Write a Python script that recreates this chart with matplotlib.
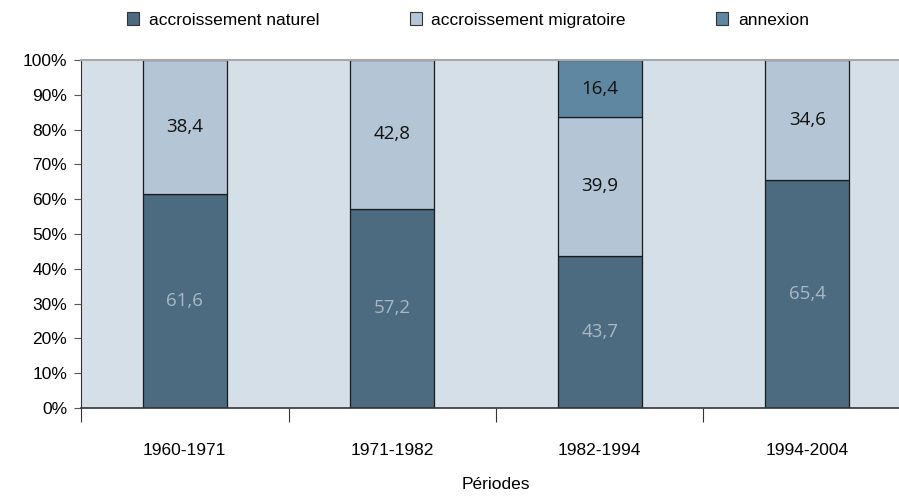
import numpy as np
import matplotlib.pyplot as plt
from matplotlib.patches import Patch
from matplotlib.ticker import FuncFormatter

periodes = ['1960-1971', '1971-1982', '1982-1994', '1994-2004']
naturel = [61.6, 57.2, 43.7, 65.4]
migratoire = [38.4, 42.8, 39.9, 34.6]
annexion = [0, 0, 16.4, 0]

c_nat = '#4c6a80'
c_mig = '#b4c6d5'
c_ann = '#5f87a1'
fond = '#d5dfe8'

plt.rcParams['font.family'] = ['Liberation Sans', 'DejaVu Sans']

fig = plt.figure(figsize=(8.99, 4.98), dpi=100)
ax = fig.add_axes([81 / 899, 90 / 498, 830 / 899, 348 / 498])
ax.set_facecolor(fond)

x = np.arange(len(periodes)) + 0.5
w = 0.405
nat = np.array(naturel)
mig = np.array(migratoire)
ann = np.array(annexion)

ax.bar(x, nat, w, color=c_nat, edgecolor='#1a1a1a', linewidth=0.9)
ax.bar(x, mig, w, bottom=nat, color=c_mig, edgecolor='#1a1a1a', linewidth=0.9)
msk = ann > 0
ax.bar(x[msk], ann[msk], w, bottom=(nat + mig)[msk], color=c_ann,
       edgecolor='#1a1a1a', linewidth=0.9)

# étiquettes des segments
lab_font = ['Open Sans', 'DejaVu Sans']
for i in range(len(periodes)):
    ax.text(x[i], nat[i] / 2, f'{naturel[i]}'.replace('.', ','), ha='center', va='center',
            fontsize=13.5, color='#aab8c4', family=lab_font)
    ax.text(x[i], nat[i] + mig[i] / 2, f'{migratoire[i]}'.replace('.', ','), ha='center',
            va='center', fontsize=13.5, color='#111111', family=lab_font)
    if ann[i] > 0:
        ax.text(x[i], nat[i] + mig[i] + ann[i] / 2, f'{annexion[i]}'.replace('.', ','),
                ha='center', va='center', fontsize=13.5, color='#111111', family=lab_font)

ax.set_xlim(0, 4)
ax.set_ylim(0, 100)
ax.set_yticks(np.arange(0, 101, 10))
ax.yaxis.set_major_formatter(FuncFormatter(lambda v, p: f'{int(v)}%'))
ax.set_xticks(x)
ax.set_xticklabels(periodes)
ax.set_xticks(np.arange(0, 5), minor=True)
ax.tick_params(axis='x', which='major', length=0, pad=25, labelsize=12.5)
ax.tick_params(axis='x', which='minor', length=10, width=0.8, color='#333333')
ax.tick_params(axis='y', length=5, width=0.8, color='#555555', labelsize=12.5, pad=5)
ax.set_xlabel('Périodes', fontsize=12.5, labelpad=14)

ax.spines['right'].set_visible(False)
ax.spines['top'].set_color('#a8a8a8')
ax.spines['top'].set_linewidth(1.5)
ax.spines['left'].set_color('#333333')
ax.spines['left'].set_linewidth(0.8)
ax.spines['bottom'].set_color('#333333')
ax.spines['bottom'].set_linewidth(1.2)

handles = [Patch(facecolor=c_nat, edgecolor='#333333', linewidth=0.8),
           Patch(facecolor=c_mig, edgecolor='#333333', linewidth=0.8),
           Patch(facecolor=c_ann, edgecolor='#333333', linewidth=0.8)]
fig.legend(handles, ['accroissement naturel', 'accroissement migratoire', 'annexion'],
           loc='center', bbox_to_anchor=(468 / 899, 1 - 20 / 498), ncol=3, frameon=False,
           fontsize=12.5, handlelength=0.7, handleheight=0.7, handletextpad=0.55,
           columnspacing=5.2)

fig.savefig('out.png', dpi=100)
